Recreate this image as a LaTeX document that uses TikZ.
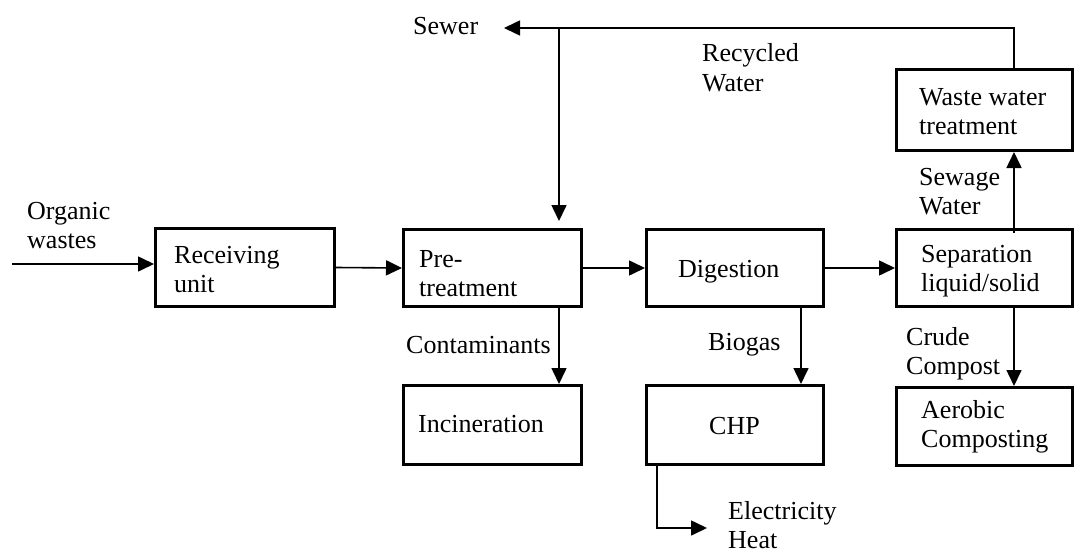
\documentclass[tikz,border=0pt]{standalone}
\usepackage{fontspec}
\setmainfont{Liberation Serif}
\usetikzlibrary{arrows.meta}
\newcommand{\stk}[1]{\begin{tabular}[t]{@{}l@{}}#1\end{tabular}}
\tikzset{
  procbox/.style={draw, line width=3pt, rectangle, inner sep=0pt, minimum width=178pt, minimum height=77pt},
  lbl/.style={inner sep=0pt, anchor=base west, font=\fontsize{26}{29.5}\selectfont},
  flow/.style={line width=1.6pt, -{Triangle[length=16pt,width=15pt]}}
}
\begin{document}
\begin{tikzpicture}[x=1pt,y=-1pt]
\useasboundingbox (0,0) rectangle (1075,551);
% boxes
\node[procbox, minimum width=179pt, minimum height=78pt] (recv) at (245,267.5) {};
\node[procbox] (pre) at (492.5,268) {};
\node[procbox, minimum width=177pt] (dig) at (735,268) {};
\node[procbox, minimum width=176pt] (sep) at (984.5,268) {};
\node[procbox, minimum width=176pt, minimum height=81pt] (wwt) at (984.5,110) {};
\node[procbox, minimum height=79pt] (inc) at (492.5,425) {};
\node[procbox, minimum width=177pt, minimum height=79pt] (chp) at (735,425) {};
\node[procbox, minimum width=176pt, minimum height=78pt] (aer) at (984.5,426.5) {};
% box texts
\node[lbl] (recvT) at (174,263) {\stk{Receiving\\unit}};
\node[lbl] (preT) at (419,267) {\stk{Pre-\\treatment}};
\node[lbl] (digT) at (678,277) {\stk{Digestion}};
\node[lbl] (sepT) at (921,262) {\stk{Separation\\liquid/solid}};
\node[lbl] (wwtT) at (919,105) {\stk{Waste water\\treatment}};
\node[lbl] (incT) at (418,432) {\stk{Incineration}};
\node[lbl] (chpT) at (709,434) {\stk{CHP}};
\node[lbl] (aerT) at (921,418) {\stk{Aerobic\\Composting}};
% free labels
\node[lbl] (orgT) at (27,219) {\stk{Organic\\wastes}};
\node[lbl] (sewerT) at (413,35) {\stk{Sewer}};
\node[lbl] (recyT) at (702,62) {\stk{Recycled\\Water}};
\node[lbl] (sewgT) at (919,185) {\stk{Sewage\\Water}};
\node[lbl] (contT) at (406,353) {\stk{Contaminants}};
\node[lbl] (bioT) at (708,350) {\stk{Biogas}};
\node[lbl] (crudeT) at (906,345) {\stk{Crude\\Compost}};
\node[lbl] (elecT) at (728,519) {\stk{Electricity\\Heat}};
% helper coordinates
\coordinate (start) at (12,264);
\coordinate (jx) at (559,28);
\coordinate (cx) at (1014,0);
\coordinate (bx) at (801,0);
\coordinate (hx) at (657,528);
\coordinate (sewTip) at (504,28);
% connectors
\draw[flow] (start) -- (recv.west |- start);
\draw[flow] (recv.east) -- (pre.west);
\draw[flow] (pre.east) -- (dig.west);
\draw[flow] (dig.east) -- (sep.west);
\draw[flow] ([yshift=-5pt]sep.north -| cx) -- (wwt.south -| cx);
\draw[flow] (wwt.north -| cx) |- (sewTip);
\draw[flow, shorten >=7pt] (jx) -- (pre.north -| jx);
\draw[flow] (pre.south -| jx) -- (inc.north -| jx);
\draw[flow] (dig.south -| bx) -- (chp.north -| bx);
\draw[flow] (sep.south -| cx) -- (aer.north -| cx);
\draw[flow] (chp.south -| hx) |- ([xshift=50pt]hx);
\end{tikzpicture}
\end{document}
